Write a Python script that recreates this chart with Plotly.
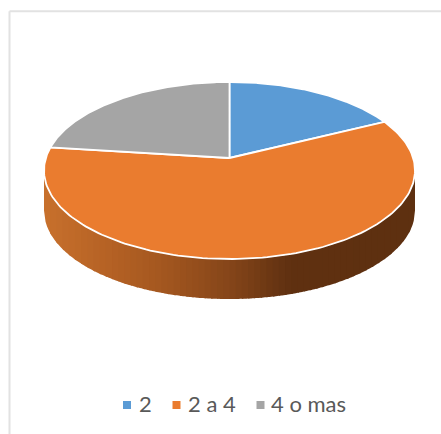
import numpy as np
import plotly.graph_objects as go

categories = ["2", "2 a 4", "4 o mas"]
values = [17.7, 59.3, 23.0]
colors = ["#5B9BD5", "#EA7C2F", "#A5A5A5"]

W, H = 441, 434
CX, TOP, BOTTOM, HUB = 229.5, 82.0, 259.0, 158.0
RX = 185.5
DEPTH = 40.0
CY, RY = (TOP + BOTTOM) / 2, (BOTTOM - TOP) / 2

# perspective mapping of the unit circle on to the tilted disc
c = (TOP + BOTTOM - 2 * HUB) / (BOTTOM - TOP)
a = TOP * (1 + c) - HUB
k = RX * np.sqrt(1 - c * c)


def project(theta):
    u, v = np.sin(theta), np.cos(theta)
    w = 1 + c * v
    return CX + k * u / w, (a * v + HUB) / w


fig = go.Figure()

# side wall, shaded left to right
stops_x = [44, 100, 160, 229, 290, 415]
stops_rgb = np.array([
    [200, 113, 45], [184, 100, 38], [165, 88, 32],
    [134, 70, 26], [96, 49, 17], [94, 48, 16],
], dtype=float)
edges = np.linspace(CX - RX, CX + RX, 61)
for x0, x1 in zip(edges[:-1], edges[1:]):
    xs = np.linspace(x0, min(x1 + 1.5, CX + RX), 6)
    ys = CY + RY * np.sqrt(np.clip(1 - ((xs - CX) / RX) ** 2, 0, 1))
    mid = (x0 + x1) / 2
    rgb = [int(np.interp(mid, stops_x, stops_rgb[:, i])) for i in range(3)]
    col = f"rgb({rgb[0]},{rgb[1]},{rgb[2]})"
    fig.add_trace(go.Scatter(
        x=np.r_[xs, xs[::-1]], y=np.r_[ys, ys[::-1] + DEPTH],
        mode="none", fill="toself", fillcolor=col,
        showlegend=False, hoverinfo="skip",
    ))

# top face slices
start = 0.0
total = sum(values)
for name, val, col in zip(categories, values, colors):
    end = start + val / total * 2 * np.pi
    th = np.linspace(start, end, 160)
    px, py = project(th)
    fig.add_trace(go.Scatter(
        x=np.r_[CX, px, CX], y=np.r_[HUB, py, HUB],
        mode="lines", fill="toself", fillcolor=col,
        line=dict(color="white", width=1.8),
        name=name, showlegend=False, hoverinfo="name",
    ))
    start = end

# legend row
MARKER_Y = 405
LABEL_Y = 406.5
marker_x = [127, 176.5, 260.5]
label_x = [139, 188, 271]
fig.add_trace(go.Scatter(
    x=marker_x, y=[MARKER_Y] * 3, mode="markers", showlegend=False, hoverinfo="skip",
    marker=dict(symbol="square", size=8, color=colors),
))
fig.add_trace(go.Scatter(
    x=label_x, y=[LABEL_Y] * 3, mode="text", text=categories,
    textposition="middle right", showlegend=False, hoverinfo="skip",
    textfont=dict(family="Lato", size=22, color="#595959"),
))

fig.update_layout(
    width=W, height=H, margin=dict(l=0, r=0, t=0, b=0),
    paper_bgcolor="white", plot_bgcolor="white",
    xaxis=dict(range=[0, W], visible=False, fixedrange=True),
    yaxis=dict(range=[H, 0], visible=False, fixedrange=True),
    shapes=[
        dict(type="line", xref="x", yref="y", x0=9.5, x1=9.5, y0=H, y1=11.3,
             line=dict(color="#E2E2E2", width=2)),
        dict(type="line", xref="x", yref="y", x0=9.5, x1=W, y0=11.3, y1=11.3,
             line=dict(color="#E2E2E2", width=2)),
    ],
)
fig.write_html(
    "out.html",
    config={"displayModeBar": False},
    post_script="document.body.style.margin='0';document.body.style.overflow='hidden';",
)
